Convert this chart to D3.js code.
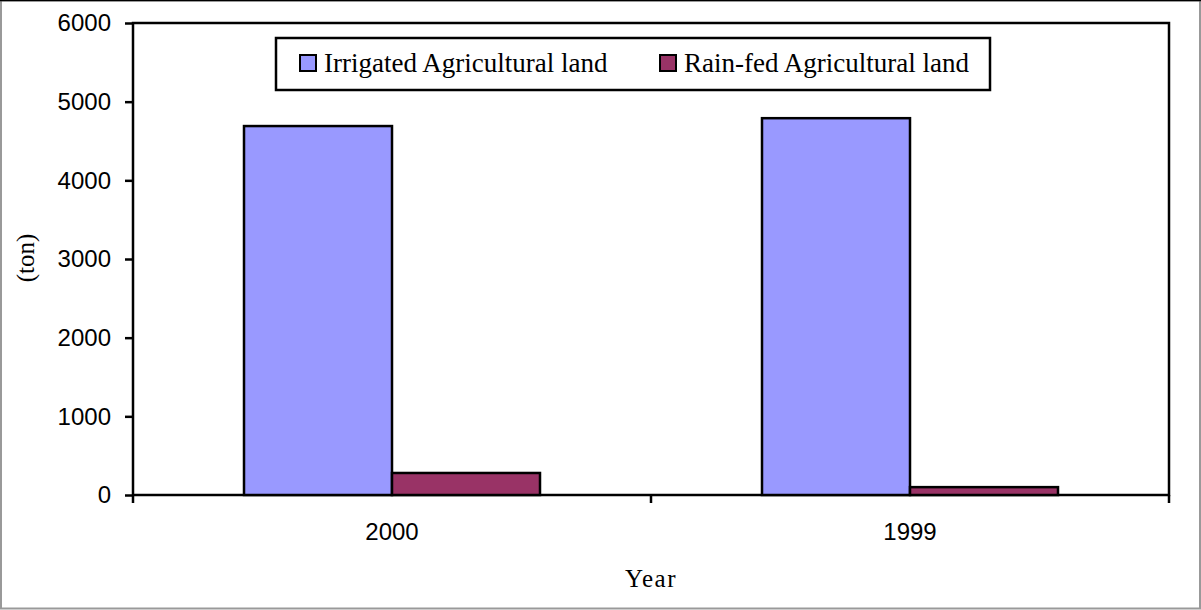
<!DOCTYPE html>
<html><head><meta charset="utf-8">
<script src="https://cdn.jsdelivr.net/npm/d3@7"></script>
<style>body{margin:0;background:#fff}svg{display:block}</style>
</head><body>
<script>
const categories = ["2000", "1999"];
const seriesNames = ["Irrigated Agricultural land", "Rain-fed Agricultural land"];
const irrigated = [4690, 4790];
const rainfed = [280, 100];
const yTicks = [0, 1000, 2000, 3000, 4000, 5000, 6000];
const colors = ["#9999ff", "#993366"];

(function () {
const W = 1201, H = 610;
const svg = d3.select("body").append("svg").attr("width", W).attr("height", H);

// outer frame
svg.append("rect").attr("x", 1).attr("y", 0.5).attr("width", W - 2).attr("height", H - 2)
  .attr("fill", "#fff").attr("stroke", "#999").attr("stroke-width", 2);
svg.append("line").attr("x1", 0).attr("x2", W).attr("y1", 0.5).attr("y2", 0.5).attr("stroke", "#000").attr("stroke-width", 1.5);

const pL = 133, pR = 1169, pT = 23, pB = 495;
const x = d3.scaleBand().domain(categories).range([pL, pR]).paddingInner(0).paddingOuter(0);
const y = d3.scaleLinear().domain([0, 6000]).range([pB, pT]);

// plot area border
svg.append("rect").attr("x", pL).attr("y", pT).attr("width", pR - pL).attr("height", pB - pT)
  .attr("fill", "none").attr("stroke", "#000").attr("stroke-width", 2.5);

const data = categories.map((c, i) => ({cat: c, vals: [irrigated[i], rainfed[i]]}));
const bw = x.bandwidth();
const barW = bw / (2 + 1.5);
const gap = barW * 1.5;
const g = svg.append("g");
data.forEach(d => {
  d.vals.forEach((v, j) => {
    g.append("rect")
      .attr("x", x(d.cat) + gap / 2 + j * barW)
      .attr("y", y(v))
      .attr("width", barW)
      .attr("height", y(0) - y(v))
      .attr("fill", colors[j]).attr("stroke", "#000").attr("stroke-width", 2.5);
  });
});

// y axis
const yAxis = svg.append("g").attr("transform", `translate(${pL},0)`)
  .call(d3.axisLeft(y).tickValues(yTicks).tickSize(8).tickPadding(14).tickFormat(d3.format("d")));
yAxis.select(".domain").remove();
yAxis.selectAll("line").attr("stroke", "#000").attr("stroke-width", 2.5);
yAxis.selectAll("text").attr("font-family", "Liberation Sans, Arial, sans-serif").attr("font-size", 24).attr("fill", "#000");

// x axis
const xAxis = svg.append("g").attr("transform", `translate(0,${pB})`)
  .call(d3.axisBottom(x).tickSize(0).tickPadding(28));
xAxis.select(".domain").remove();
xAxis.selectAll("text").attr("font-family", "Liberation Sans, Arial, sans-serif").attr("font-size", 24).attr("fill", "#000");
const xTickPos = [pL, pL + bw, pR];
svg.append("g").selectAll("line").data(xTickPos).join("line")
  .attr("x1", d => d).attr("x2", d => d).attr("y1", pB).attr("y2", pB + 8)
  .attr("stroke", "#000").attr("stroke-width", 2.5);

// axis titles
svg.append("text").attr("x", 651).attr("y", 587).attr("text-anchor", "middle")
  .attr("font-family", "Liberation Serif, Times New Roman, serif").attr("font-size", 25)
  .attr("letter-spacing", 1.5).text("Year");
svg.append("text").attr("transform", "translate(34,258) rotate(-90)").attr("text-anchor", "middle")
  .attr("font-family", "Liberation Serif, Times New Roman, serif").attr("font-size", 25).text("(ton)");

// legend
const lg = svg.append("g");
lg.append("rect").attr("x", 276).attr("y", 38).attr("width", 714).attr("height", 52)
  .attr("fill", "#fff").attr("stroke", "#000").attr("stroke-width", 2.5);
const legX = [300, 660];
seriesNames.forEach((n, i) => {
  lg.append("rect").attr("x", legX[i]).attr("y", 55).attr("width", 16).attr("height", 16)
    .attr("fill", colors[i]).attr("stroke", "#000").attr("stroke-width", 2);
  lg.append("text").attr("x", legX[i] + 24).attr("y", 72)
    .attr("font-family", "Liberation Serif, Times New Roman, serif").attr("font-size", 27).text(n);
});
})();
</script>
</body></html>
